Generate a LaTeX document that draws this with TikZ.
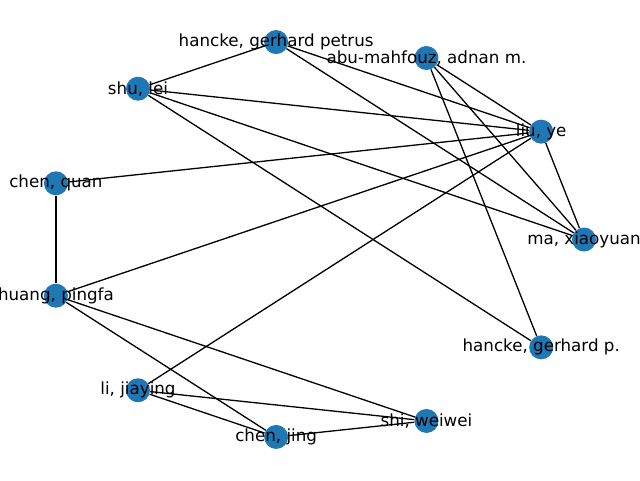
\documentclass[tikz,border=0pt]{standalone}
\usepackage{fontspec}
\setmainfont{DejaVu Sans}
\usepackage{tikz}
\usetikzlibrary{backgrounds}
\definecolor{NetBlue}{HTML}{1F77B4}
\tikzset{
  author/.style={circle,fill=NetBlue,minimum size=24pt,inner sep=0pt,
    label={[font=\fontsize{16.7}{20}\selectfont,inner sep=0pt,text=black]center:#1}},
  coauthor/.style={line width=1.3pt,draw=black}
}

\begin{document}
\begin{tikzpicture}[x=269.5pt,y=199.5pt]
\useasboundingbox (-314.5pt,-240.5pt) rectangle (325.5pt,239.5pt);
\node[author={ma, xiaoyuan}] (ma) at (0:1) {};
\node[author={liu, ye}] (liu) at (32.73:1) {};
\node[author={abu-mahfouz, adnan m.}] (abu) at (65.45:1) {};
\node[author={hancke, gerhard petrus}] (hgpetrus) at (98.18:1) {};
\node[author={shu, lei}] (shu) at (130.91:1) {};
\node[author={chen, quan}] (cquan) at (163.64:1) {};
\node[author={huang, pingfa}] (huang) at (196.36:1) {};
\node[author={li, jiaying}] (li) at (229.09:1) {};
\node[author={chen, jing}] (cjing) at (261.82:1) {};
\node[author={shi, weiwei}] (shi) at (294.55:1) {};
\node[author={hancke, gerhard p.}] (hgp) at (327.27:1) {};
\begin{pgfonlayer}{background}
\draw[coauthor] (shu) -- (hgpetrus);
\draw[coauthor] (shu) -- (liu);
\draw[coauthor] (shu) -- (ma);
\draw[coauthor] (shu) -- (hgp);
\draw[coauthor] (hgpetrus) -- (liu);
\draw[coauthor] (hgpetrus) -- (ma);
\draw[coauthor] (abu) -- (liu);
\draw[coauthor] (abu) -- (ma);
\draw[coauthor] (abu) -- (hgp);
\draw[coauthor] (liu) -- (ma);
\draw[coauthor] (liu) -- (cquan);
\draw[coauthor] (liu) -- (huang);
\draw[coauthor] (liu) -- (li);
\draw[coauthor] (cquan) -- (huang);
\draw[coauthor] (huang) -- (shi);
\draw[coauthor] (huang) -- (cjing);
\draw[coauthor] (li) -- (shi);
\draw[coauthor] (li) -- (cjing);
\draw[coauthor] (cjing) -- (shi);
\end{pgfonlayer}
\end{tikzpicture}
\end{document}
